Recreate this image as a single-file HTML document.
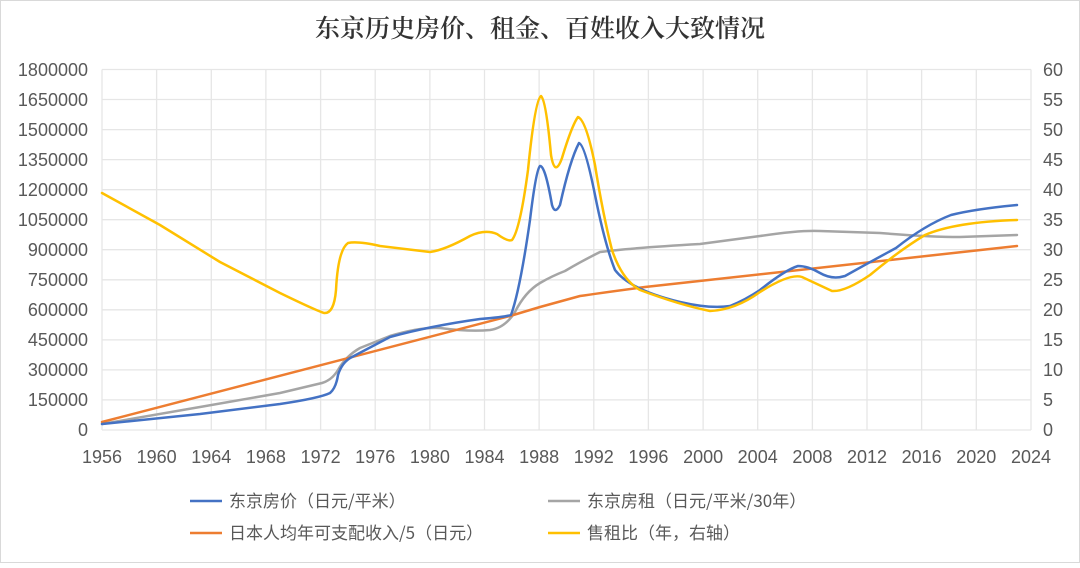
<!DOCTYPE html>
<html><head><meta charset="utf-8"><style>
body{margin:0;background:#fff;}
svg text{font-family:"Liberation Sans","Noto Sans CJK SC",sans-serif;fill:#595959;}
</style></head><body>
<svg width="1080" height="563" viewBox="0 0 1080 563" xmlns="http://www.w3.org/2000/svg">
<rect x="0.5" y="0.5" width="1079" height="562" fill="#fff" stroke="#d9d9d9"/>
<text x="540" y="37" text-anchor="middle" style="font-family:'Noto Serif CJK SC','Noto Sans CJK SC',serif;font-size:25px;font-weight:600;fill:#333">东京历史房价、租金、百姓收入大致情况</text>
<g stroke="#e6e6e6" stroke-width="1.3" fill="none">
<path d="M102 69.5H1031M102 99.5H1031M102 129.6H1031M102 159.6H1031M102 189.7H1031M102 219.7H1031M102 249.7H1031M102 279.8H1031M102 309.8H1031M102 339.9H1031M102 369.9H1031M102 399.9H1031M102 430H1031"/>
<path d="M102 69.5V430M156.6 69.5V430M211.3 69.5V430M265.9 69.5V430M320.6 69.5V430M375.2 69.5V430M429.9 69.5V430M484.5 69.5V430M539.1 69.5V430M593.8 69.5V430M648.4 69.5V430M703.1 69.5V430M757.7 69.5V430M812.4 69.5V430M867 69.5V430M921.6 69.5V430M976.3 69.5V430M1031 69.5V430"/>
</g>
<g font-size="18" text-anchor="end">
<text x="88" y="76">1800000</text><text x="88" y="106">1650000</text><text x="88" y="136">1500000</text><text x="88" y="166">1350000</text><text x="88" y="196">1200000</text><text x="88" y="226">1050000</text><text x="88" y="256">900000</text><text x="88" y="286">750000</text><text x="88" y="316">600000</text><text x="88" y="346">450000</text><text x="88" y="376">300000</text><text x="88" y="406">150000</text><text x="88" y="436">0</text>
</g>
<g font-size="18" text-anchor="start">
<text x="1043" y="76">60</text><text x="1043" y="106">55</text><text x="1043" y="136">50</text><text x="1043" y="166">45</text><text x="1043" y="196">40</text><text x="1043" y="226">35</text><text x="1043" y="256">30</text><text x="1043" y="286">25</text><text x="1043" y="316">20</text><text x="1043" y="346">15</text><text x="1043" y="376">10</text><text x="1043" y="406">5</text><text x="1043" y="436">0</text>
</g>
<g font-size="18" text-anchor="middle">
<text x="102" y="463">1956</text><text x="156.6" y="463">1960</text><text x="211.3" y="463">1964</text><text x="265.9" y="463">1968</text><text x="320.6" y="463">1972</text><text x="375.2" y="463">1976</text><text x="429.9" y="463">1980</text><text x="484.5" y="463">1984</text><text x="539.1" y="463">1988</text><text x="593.8" y="463">1992</text><text x="648.4" y="463">1996</text><text x="703.1" y="463">2000</text><text x="757.7" y="463">2004</text><text x="812.4" y="463">2008</text><text x="867" y="463">2012</text><text x="921.6" y="463">2016</text><text x="976.3" y="463">2020</text><text x="1031" y="463">2024</text>
</g>
<g fill="none" stroke-width="2.5" stroke-linejoin="round" stroke-linecap="round">
<path stroke="#a5a5a5" d="M102 424 L200 407 L280 393 L322 383 Q332 380 338 370 Q346 356 360 348 L390 336 Q420 327 440 328 Q470 332 490 330 Q505 328 515 312 Q525 292 540 283 Q552 276 565 271 Q580 262 600 252 Q630 248 700 244 L760 236 Q800 230 820 231 L880 233 Q930 237 960 237 L1017 235"/>
<path stroke="#ed7d31" d="M102 422 L510 316 L540 307 L580 296 Q600 293 645 287 L1017 246"/>
<path stroke="#4472c4" d="M102 424 L200 414 L280 404 Q320 398 330 393 Q336 388 338 375 Q342 362 352 357 L390 337 Q430 326 480 319 Q505 317 511 315 Q520 290 530 220 Q536 170 540 166 Q545 165 552 205 Q555 215 560 205 Q570 160 579 143 Q585 145 595 195 Q605 245 615 270 Q630 290 680 302 Q710 309 730 306 Q745 300 760 290 Q785 270 798 266 Q808 266 820 273 Q832 280 845 276 Q870 262 896 248 Q925 225 951 215 Q975 209 1017 205"/>
<path stroke="#ffc000" d="M102 193 L160 225 L220 262 L280 293 Q315 310 324 313 Q334 314 336 290 Q338 250 348 243 Q358 241 380 246 L430 252 Q445 250 470 236 Q485 229 497 234 Q508 242 512 240 Q520 230 528 170 Q535 100 541 96 Q546 100 551 155 Q555 178 562 158 Q572 125 578 117 Q586 120 595 165 Q603 215 612 250 Q622 280 640 290 Q680 305 710 311 Q735 310 760 292 Q790 273 802 277 Q815 283 832 291 Q845 292 870 275 Q900 250 925 235 Q955 222 1017 220"/>
</g>
<g font-size="17">
<line x1="190" y1="501" x2="222" y2="501" stroke="#4472c4" stroke-width="2.5"/><text x="229" y="507" style="font-family:'Noto Sans CJK SC','Liberation Sans',sans-serif">东京房价（日元/平米）</text>
<line x1="548" y1="501" x2="580" y2="501" stroke="#a5a5a5" stroke-width="2.5"/><text x="587" y="507" style="font-family:'Noto Sans CJK SC','Liberation Sans',sans-serif">东京房租（日元/平米/30年）</text>
<line x1="190" y1="533" x2="222" y2="533" stroke="#ed7d31" stroke-width="2.5"/><text x="229" y="539" style="font-family:'Noto Sans CJK SC','Liberation Sans',sans-serif">日本人均年可支配收入/5（日元）</text>
<line x1="548" y1="533" x2="580" y2="533" stroke="#ffc000" stroke-width="2.5"/><text x="587" y="539" style="font-family:'Noto Sans CJK SC','Liberation Sans',sans-serif">售租比（年，右轴）</text>
</g>
</svg>
</body></html>
